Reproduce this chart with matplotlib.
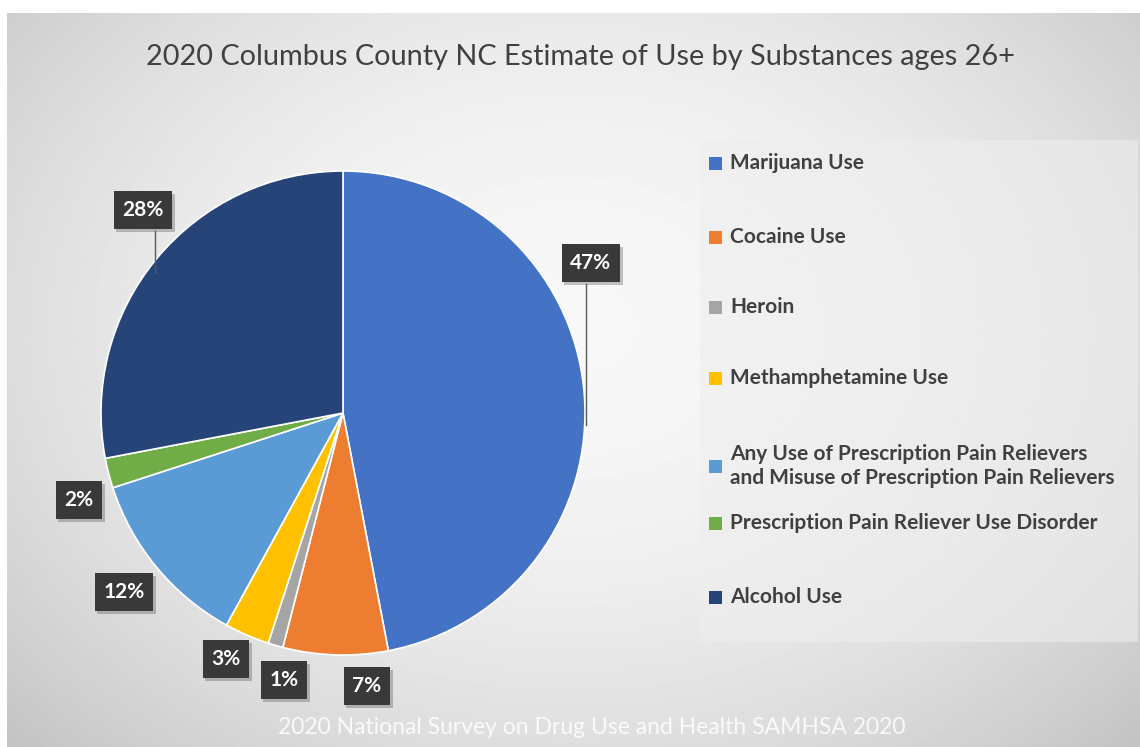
import numpy as np
import matplotlib.pyplot as plt
import matplotlib.patheffects as pe
from matplotlib.patches import Rectangle

# survey shares by substance (percent of adults 26+)
categories = [
    "Marijuana Use",
    "Cocaine Use",
    "Heroin",
    "Methamphetamine Use",
    "Any Use of Prescription Pain Relievers\nand Misuse of Prescription Pain Relievers",
    "Prescription Pain Reliever Use Disorder",
    "Alcohol Use",
]
shares = [47, 7, 1, 3, 12, 2, 28]
colors = ["#4472C4", "#ED7D31", "#A5A5A5", "#FFC000", "#5B9BD5", "#70AD47", "#264478"]

title = "2020 Columbus County NC Estimate of Use by Substances ages 26+"
source = "2020 National Survey on Drug Use and Health SAMHSA 2020"

# layout in pixel units (y measured from the top)
W, H = 1140, 747
pie_cx, pie_cy, pie_r = 343, 413, 242
label_pos = [(591, 263), (367, 686), (284, 680), (226, 659), (124, 592), (79, 500), (143, 210)]
leader_x = {0: 586, 6: 155}
legend_y = [163, 237, 307, 378, 466, 523, 597]

plt.rcParams['font.family'] = ['Lato', 'DejaVu Sans']

fig = plt.figure(figsize=(W / 100, H / 100), dpi=100)
ax = fig.add_axes([0, 0, 1, 1])


def fy(y):
    return H - y


# soft radial grey background
yy, xx = np.mgrid[0:H, 0:W]
d2 = ((xx - 570) / 680.0) ** 2 + ((yy - 320) / 520.0) ** 2
shade = np.clip(0.97 - 0.15 * d2, 0, 1)
ax.imshow(shade, cmap='gray', vmin=0, vmax=1, extent=(7, W, 0, H - 13),
          origin='upper', zorder=0, interpolation='bilinear')

# legend panel
ax.add_patch(Rectangle((700, fy(642)), W - 702, 642 - 140, facecolor='#eeeeee',
                       edgecolor='none', alpha=0.6, zorder=1))

wedges, _ = ax.pie(shares, colors=colors, startangle=90, counterclock=False,
                   center=(pie_cx, fy(pie_cy)), radius=pie_r,
                   wedgeprops=dict(edgecolor='white', linewidth=1.2, zorder=2))

ax.set_xlim(0, W)
ax.set_ylim(0, H)
ax.set_aspect('equal')
ax.axis('off')

# percent labels in dark boxes
for i, (v, (lx, ly)) in enumerate(zip(shares, label_pos)):
    t = ax.text(lx, fy(ly), f"{v}%", color='white', fontsize=15, fontweight='bold',
                ha='center', va='center', zorder=5,
                bbox=dict(boxstyle='square,pad=0.42', facecolor='#393939', edgecolor='none'))
    t.get_bbox_patch().set_path_effects([
        pe.withSimplePatchShadow(offset=(2, -2), shadow_rgbFace='#555555', alpha=0.35),
        pe.Normal()])
    if i in leader_x:
        x0 = leader_x[i]
        dx = min(abs(x0 - pie_cx), pie_r)
        y_edge = pie_cy - np.sqrt(pie_r ** 2 - dx ** 2)
        ax.plot([x0, x0], [fy(ly + 21), fy(y_edge + 12)], color='#595959', lw=1, zorder=4)

# legend entries
for name, c, y in zip(categories, colors, legend_y):
    ax.add_patch(Rectangle((709, fy(y) - 6.5), 13, 13, facecolor=c, edgecolor='none', zorder=3))
    ax.text(730, fy(y), name, fontsize=15, fontweight='bold', color='#404040',
            ha='left', va='center', linespacing=1.2, zorder=3)

ax.text(580, fy(57), title, fontsize=20.8, color='#404040', ha='center', va='center', zorder=3)
ax.text(592, fy(728), source, fontsize=16.5, color='white', alpha=0.85,
        ha='center', va='center', zorder=3)

fig.savefig("out.png", dpi=100)
